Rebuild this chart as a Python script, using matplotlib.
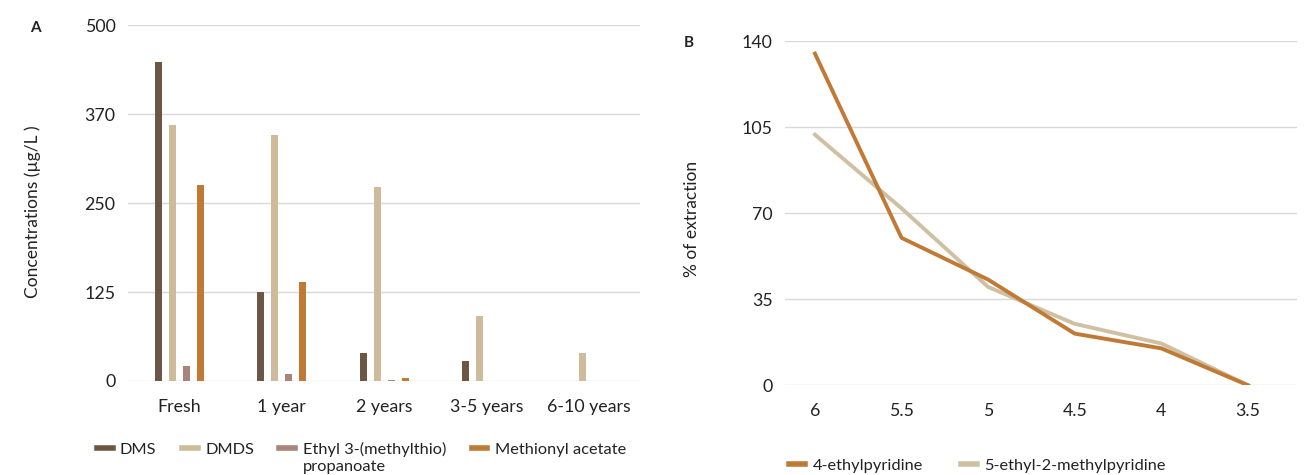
import numpy as np
import matplotlib.pyplot as plt
from matplotlib.lines import Line2D

plt.rcParams['font.family'] = ['Lato', 'DejaVu Sans']

# panel A data
ages = ["Fresh", "1 year", "2 years", "3-5 years", "6-10 years"]
dms = [448, 125, 39, 28, 0]
dmds = [360, 345, 272, 91, 39]
ethyl = [21, 10, 1, 0, 0]
methionyl = [275, 139, 4, 0, 0]
a_ticks = [0, 125, 250, 375, 500]
a_ticklabels = ["0", "125", "250", "370", "500"]

# panel B data
ph = ["6", "5.5", "5", "4.5", "4", "3.5"]
ethylpyridine = [135, 60, 43, 21, 15, 0]
ethylmethylpyridine = [102, 72, 40, 25, 17, 0]
b_ticks = [0, 35, 70, 105, 140]

c_dms = "#6b5744"
c_dmds = "#cdbb9c"
c_ethyl = "#a8847a"
c_meth = "#c07a35"
c_line2 = "#cfc0a3"
grid_c = "#d9d9d9"
txt = "#222222"
fs = 11.8

fig = plt.figure(figsize=(13.07, 4.75), dpi=100)

# ---- panel A
ax1 = fig.add_axes([0.098, 0.198, 0.392, 0.749])
x = np.arange(len(ages))
step = 0.137
w = 0.068
series = [(dms, c_dms, "DMS"), (dmds, c_dmds, "DMDS"),
          (ethyl, c_ethyl, "Ethyl 3-(methylthio)"),
          (methionyl, c_meth, "Methionyl acetate")]
for i, (vals, col, lab) in enumerate(series):
    ax1.bar(x + (i - 1.5) * step, vals, width=w, color=col, zorder=3)
ax1.set_xlim(-0.5, 4.5)
ax1.set_ylim(0, 500)
ax1.set_yticks(a_ticks)
ax1.set_yticklabels(a_ticklabels)
ax1.set_xticks(x)
ax1.set_xticklabels(ages)
ax1.grid(axis='y', color=grid_c, lw=1, zorder=0)
ax1.set_ylabel("Concentrations (µg/L )", fontsize=12.5, color=txt)
ax1.yaxis.set_label_coords(-0.17, 0.475)
handles = [Line2D([0], [0], color=c, lw=4) for _, c, _ in series]
leg1 = ax1.legend(handles, [s[2] for s in series], loc='upper left', bbox_to_anchor=(-0.09, -0.13),
                  ncol=4, frameon=False, fontsize=fs, handlelength=0.97, handletextpad=0.45,
                  columnspacing=1.55, labelcolor=txt)
fig.text(0.023, 0.955, "A", fontsize=11, fontweight='bold', color=txt, va='top')

# ---- panel B
ax2 = fig.add_axes([0.6006, 0.189, 0.392, 0.724])
xb = np.arange(len(ph))
ax2.plot(xb, ethylmethylpyridine, color=c_line2, lw=2.8, zorder=3,
         label="5-ethyl-2-methylpyridine")
ax2.plot(xb, ethylpyridine, color=c_meth, lw=2.8, zorder=4, label="4-ethylpyridine")
ax2.set_xlim(-0.346, 5.57)
ax2.set_ylim(0, 140)
ax2.set_yticks(b_ticks)
ax2.set_xticks(xb)
ax2.set_xticklabels(ph)
ax2.grid(axis='y', color=grid_c, lw=1, zorder=0)
ax2.set_ylabel("% of extraction", fontsize=12.5, color=txt)
ax2.yaxis.set_label_coords(-0.166, 0.483)
hb = [Line2D([0], [0], color=c_meth, lw=4), Line2D([0], [0], color=c_line2, lw=4)]
ax2.legend(hb, ["4-ethylpyridine", "5-ethyl-2-methylpyridine"], loc='upper left',
           bbox_to_anchor=(-0.02, -0.17), ncol=2, frameon=False, fontsize=fs,
           handlelength=0.97, handletextpad=0.45, columnspacing=2.3, labelcolor=txt)
fig.text(0.523, 0.925, "B", fontsize=11, fontweight='bold', color=txt, va='top')

for ax in (ax1, ax2):
    for s in ax.spines.values():
        s.set_visible(False)
    ax.tick_params(length=0, labelsize=12.8, colors=txt)
    ax.tick_params(axis='y', pad=9)
    ax.tick_params(axis='x', pad=13)
    ax.set_axisbelow(True)

# second line of the wrapped legend label, placed under the first line
fig.canvas.draw()
t = leg1.get_texts()[2]
bb = t.get_window_extent().transformed(fig.transFigure.inverted())
fig.text(bb.x0, bb.y0 - 0.006, "propanoate", fontsize=fs, color=txt, va='top', ha='left')

fig.savefig("out.png", dpi=100)
